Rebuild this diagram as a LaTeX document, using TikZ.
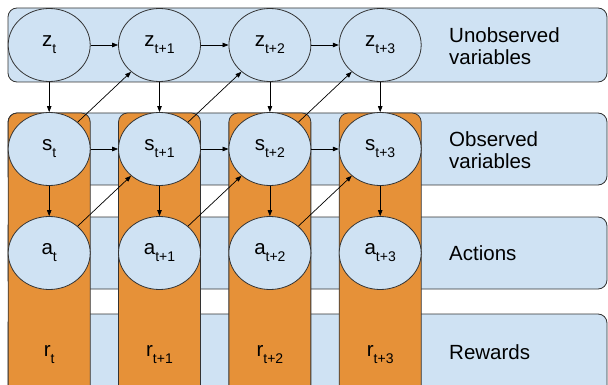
\documentclass[tikz,border=0pt]{standalone}
\usepackage{fontspec}
\setmainfont{Liberation Sans}
\usetikzlibrary{shapes.geometric,arrows.meta}
\definecolor{lblue}{HTML}{CFE2F3}
\definecolor{orng}{HTML}{E69138}
\definecolor{edge}{HTML}{333333}
\newcommand{\lbl}[2]{{\fontsize{20.5}{20.5}\selectfont #1}{\fontsize{14}{14}\selectfont\raisebox{-7pt}{#2}}}
\tikzset{
  band/.style={fill=lblue, draw=edge, line width=0.8pt, rounded corners=9pt},
  column/.style={fill=orng, draw=edge, line width=0.8pt, rounded corners=9pt},
  var/.style={ellipse, fill=lblue, draw=edge, line width=0.8pt, minimum width=82pt, minimum height=73pt, inner sep=0pt},
  plain/.style={inner sep=0pt},
  side/.style={anchor=west, align=left, inner sep=0pt, font=\fontsize{20.5}{22.5}\selectfont},
  conn/.style={draw=black, line width=0.7pt, -{Triangle[length=6pt,width=4.5pt]}}
}
\begin{document}
\begin{tikzpicture}[x=1pt,y=-1pt]
\useasboundingbox (0,0) rectangle (608,385);
\clip (0,0) rectangle (608,385);
% bands
\path[band] (8,8) rectangle (607,82);
\path[band] (8,113) rectangle (607,185);
\path[band] (8,217) rectangle (607,289);
\path[band] (8,314) rectangle (607,420);
% columns
\foreach \i in {0,1,2,3} {
  \pgfmathsetmacro{\cx}{49.2+110.33*\i}
  \path[column] (\cx-41,113) rectangle (\cx+41,420);
}
% nodes
\node[var] (z0) at (49.2,45) {\lbl{z}{t}};
\node[var] (z1) at (159.5,45) {\lbl{z}{t+1}};
\node[var] (z2) at (269.9,45) {\lbl{z}{t+2}};
\node[var] (z3) at (380.2,45) {\lbl{z}{t+3}};
\node[var] (s0) at (49.2,149) {\lbl{s}{t}};
\node[var] (s1) at (159.5,149) {\lbl{s}{t+1}};
\node[var] (s2) at (269.9,149) {\lbl{s}{t+2}};
\node[var] (s3) at (380.2,149) {\lbl{s}{t+3}};
\node[var] (a0) at (49.2,253) {\lbl{a}{t}};
\node[var] (a1) at (159.5,253) {\lbl{a}{t+1}};
\node[var] (a2) at (269.9,253) {\lbl{a}{t+2}};
\node[var] (a3) at (380.2,253) {\lbl{a}{t+3}};
\node[plain] (r0) at (49.2,355) {\lbl{r}{t}};
\node[plain] (r1) at (159.5,355) {\lbl{r}{t+1}};
\node[plain] (r2) at (269.9,355) {\lbl{r}{t+2}};
\node[plain] (r3) at (380.2,355) {\lbl{r}{t+3}};
% side labels
\node[side] (l1) at (449,46) {Unobserved\\variables};
\node[side] (l2) at (449,150) {Observed\\variables};
\node[side] (l3) at (449,253) {Actions};
\node[side] (l4) at (449,352) {Rewards};
% arrows
\foreach \i/\j in {0/1,1/2,2/3} {
  \draw[conn] (z\i) -- (z\j);
  \draw[conn] (s\i) -- (s\j);
  \draw[conn] (s\i) -- (z\j);
  \draw[conn] (a\i) -- (s\j);
}
\foreach \i in {0,1,2,3} {
  \draw[conn] (z\i) -- (s\i);
  \draw[conn] (s\i) -- (a\i);
}
\end{tikzpicture}
\end{document}
